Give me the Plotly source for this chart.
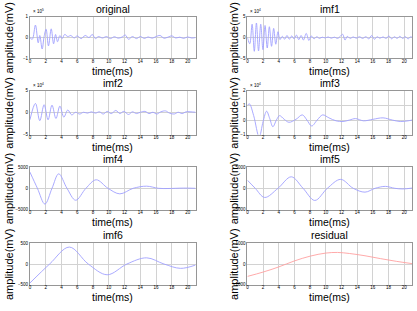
import plotly.graph_objects as go

# ---------------- data (time in ms, amplitude in displayed axis units) ----------------
orig_t = [0, 0.3, 0.7, 1.05, 1.25, 1.55, 1.8, 2.05, 2.35, 2.7, 3.0, 3.25, 3.5, 3.8, 4.1, 4.4, 4.8,
          5.2, 5.6, 6.0, 6.5, 7.0, 7.5, 7.9, 8.3, 8.7, 9.2, 9.7, 10.2, 10.7, 11.2, 11.7, 12.1, 12.5,
          13.0, 13.5, 14.0, 14.5, 15.0, 15.5, 16.0, 16.5, 17.0, 17.5, 18.0, 18.5, 19.0, 19.5, 20.0,
          20.5, 21.0]
orig_v = [0, -0.08, 0.6, -0.25, 0.1, -0.55, 0.05, 0.4, -0.4, 0.42, -0.3, 0.15, -0.2, 0.1, -0.05,
          0.15, 0.05, 0.1, -0.02, 0.08, -0.05, 0.1, 0.0, 0.15, -0.05, 0.05, -0.02, 0.05, -0.05, 0.04,
          -0.03, 0.03, 0.12, -0.08, 0.05, -0.05, 0.05, -0.04, 0.03, -0.03, 0.05, 0.1, -0.03, 0.02,
          0.08, -0.02, 0.02, -0.04, 0.03, -0.02, 0.0]

imf1_t = [0.0, 0.3, 0.6, 0.88, 1.15, 1.42, 1.7, 1.98, 2.25, 2.53, 2.8, 3.08, 3.35, 3.62, 3.9, 4.15,
          4.45, 4.75, 5.05, 5.35, 5.65, 5.95, 6.25, 6.55, 6.85, 7.15, 7.5, 7.85, 8.15, 8.5, 8.85,
          9.2, 9.55, 9.9, 10.3, 10.7, 11.1, 11.5, 11.85, 12.15, 12.45, 12.75, 13.1, 13.5, 13.9,
          14.3, 14.7, 15.1, 15.5, 15.85, 16.2, 16.55, 16.9, 17.3, 17.7, 18.05, 18.4, 18.75, 19.1,
          19.45, 19.8, 20.15, 20.5, 20.85, 21.0]
imf1_v = [0.0, -1.5, 3.2, -3.3, 3.5, -3.2, 3.2, -2.9, 2.9, -2.5, 2.6, -2.1, 2.2, -1.6, 1.4, -0.5,
          0.3, -0.4, 0.5, -0.4, 0.4, -0.3, 0.6, -0.5, 0.5, -0.6, 1.0, -0.7, 0.4, -0.3, 0.2,
          -0.2, 0.1, -0.1, 0.15, -0.15, 0.1, -0.2, 0.3, 0.8, -0.6, 0.3, -0.2, 0.15, -0.15,
          0.2, -0.2, 0.2, -0.3, 0.5, -0.4, 0.2, -0.15, 0.15, -0.2, 0.4, -0.3, 0.2, -0.2,
          0.3, -0.2, 0.2, -0.3, 0.2, 0.0]

imf2_t = [0, 0.7, 1.25, 1.8, 2.3, 2.8, 3.3, 3.8, 4.3, 4.8, 5.3, 5.8, 6.3, 6.8, 7.3, 7.8, 8.3, 8.8,
          9.3, 9.8, 10.3, 10.9, 11.4, 11.9, 12.5, 13.0, 13.5, 14.0, 14.6, 15.1, 15.6, 16.1, 16.6,
          17.2, 17.7, 18.3, 18.8, 19.3, 19.8, 20.3, 21.0]
imf2_v = [-1.6, 2.1, -1.8, 1.8, -1.6, 1.7, -1.3, 1.5, -1.0, 0.6, -0.5, 0.1, -0.3, 0.1, -0.1, 0.2,
          -0.1, 0.2, -0.3, 0.3, -0.2, 0.5, -0.2, 0.3, -0.4, 0.2, -0.2, 0.1, 0.3, -0.2, 0.1, -0.3,
          0.2, 0.4, -0.1, -0.3, 0.1, -0.2, 0.2, 0.2, 0.1]

imf3_t = [0, 0.25, 0.8, 1.5, 2.0, 2.45, 2.85, 3.25, 3.7, 4.1, 4.7, 5.3, 6.2, 7.0, 7.6, 8.2, 8.9,
          9.6, 10.4, 11.3, 12.2, 13.0, 13.8, 14.8, 16.0, 17.3, 18.5, 19.5, 20.5, 21.0]
imf3_v = [1.0, 1.1, 0.3, -1.15, -0.1, 0.6, 0.1, -0.45, 0.0, 0.3, 0.05, -0.15, 0.05, 0.35, 0.0,
          -0.4, 0.0, 0.35, 0.15, -0.05, -0.1, 0.0, 0.1, -0.05, 0.05, 0.15, 0.0, -0.1, -0.05, 0.0]

imf4_t = [0, 0.95, 1.9, 2.8, 3.65, 4.7, 5.8, 7.1, 8.4, 9.9, 11.4, 13.1, 14.8, 16.3, 17.5, 19.5, 21.0]
imf4_v = [3800, 0, -3700, 0, 3400, 0, -2800, 0, 2000, 0, -1300, 0, 500, 0, -50, 50, 0]

imf5_t = [0, 1.0, 2.2, 3.9, 5.6, 7.1, 8.6, 10.2, 11.9, 13.5, 15.0, 16.3, 17.6, 18.8, 19.8, 21.0]
imf5_v = [1900, 0, -2150, 0, 2700, 0, -2850, 0, 2100, 0, -900, 0, 450, 0, -150, 50]

imf6_t = [0, 2.5, 5.0, 7.4, 9.8, 12.3, 14.8, 17.0, 19.1, 21.0]
imf6_v = [-460, 0, 410, 0, -260, 0, 150, 0, -105, -25]

res_t = [0, 2, 4, 6, 8, 10, 11.5, 13, 15, 17, 19, 21]
res_v = [-600, -390, -140, 150, 380, 530, 560, 510, 400, 260, 130, 20]

titles = ["original", "imf1", "imf2", "imf3", "imf4", "imf5", "imf6", "residual"]
y_ranges = [[-1, 1], [-5, 5], [-5, 5], [-1, 2], [-5000, 5000], [-5000, 5000], [-500, 500], [-1000, 1000]]
y_ticks = [[-1, 0, 1], [-5, 0, 5], [-5, 0, 5], [-1, 0, 1, 2], [-5000, 0, 5000], [-5000, 0, 5000],
           [-500, 0, 500], [-1000, 0, 1000]]
exponents = ["5", "4", "4", "4", None, None, None, None]
x_ticks = list(range(0, 21, 2))

series = [(orig_t, orig_v), (imf1_t, imf1_v), (imf2_t, imf2_v), (imf3_t, imf3_v),
          (imf4_t, imf4_v), (imf5_t, imf5_v), (imf6_t, imf6_v), (res_t, res_v)]

# ---------------- layout geometry ----------------
W, H = 417, 311
col_px = [(29, 195), (247, 412)]
row_px = [(15, 57.3), (90, 135), (167.7, 211), (245.3, 287.3)]
ytitle_px = [8, 233.5]

BLUE = "rgb(160,160,255)"
RED = "rgb(255,160,160)"
GRID = "rgb(210,210,210)"
BORDER = "rgb(150,150,150)"
FONT = "Liberation Sans, Arial, sans-serif"

fig = go.Figure()
annotations = []
layout_axes = {}

for i, (t, v) in enumerate(series):
    r, c = divmod(i, 2)
    x0, x1 = col_px[c]
    top, bot = row_px[r]
    xn = "" if i == 0 else str(i + 1)
    fig.add_trace(go.Scatter(
        x=t, y=v, mode="lines",
        line=dict(color=RED if i == 7 else BLUE, width=0.9, shape="spline", smoothing=1.0),
        xaxis="x" + xn, yaxis="y" + xn, showlegend=False, hoverinfo="skip"))
    common = dict(showgrid=True, gridcolor=GRID, gridwidth=1, showline=True, linecolor=BORDER,
                  linewidth=1, mirror=True, zeroline=False, ticks="",
                  tickfont=dict(size=4.5, color="black", family=FONT))
    layout_axes["xaxis" + xn] = dict(common, domain=[x0 / W, x1 / W], range=[0, 21],
                                     tickvals=x_ticks, anchor="y" + xn, ticklabelstandoff=-2)
    layout_axes["yaxis" + xn] = dict(common, domain=[1 - bot / H, 1 - top / H], range=y_ranges[i],
                                     tickvals=y_ticks[i], anchor="x" + xn)
    cx = (x0 + x1) / 2 / W
    annotations.append(dict(text=titles[i], x=cx, y=1 - (top - 8) / H, xref="paper", yref="paper",
                            showarrow=False, xanchor="center", yanchor="middle",
                            font=dict(size=10.5, color="black", family=FONT)))
    annotations.append(dict(text="time(ms)", x=cx, y=1 - (bot + 12.5) / H, xref="paper", yref="paper",
                            showarrow=False, xanchor="center", yanchor="middle",
                            font=dict(size=10.5, color="black", family=FONT)))
    annotations.append(dict(text="amplitude(mV)", x=ytitle_px[c] / W, y=1 - (top + bot) / 2 / H,
                            xref="paper", yref="paper", showarrow=False, textangle=-90,
                            xanchor="center", yanchor="middle",
                            font=dict(size=11, color="black", family=FONT)))
    if exponents[i]:
        annotations.append(dict(text="× 10<sup>" + exponents[i] + "</sup>", x=(x0 + 1) / W,
                                y=1 - (top - 1) / H, xref="paper", yref="paper", showarrow=False,
                                xanchor="left", yanchor="bottom",
                                font=dict(size=4.5, color="black", family=FONT)))

fig.update_layout(width=W, height=H, margin=dict(l=0, r=0, t=0, b=0),
                  paper_bgcolor="white", plot_bgcolor="white",
                  annotations=annotations, **layout_axes)

fig.write_html("out.html", config={"displayModeBar": False},
               post_script="document.body.style.margin='0';")
